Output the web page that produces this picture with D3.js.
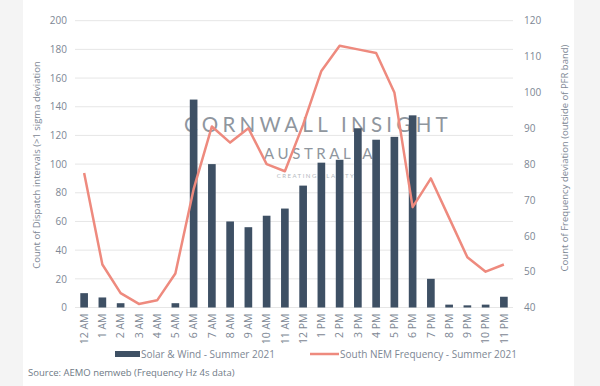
<!DOCTYPE html>
<html>
<head>
<meta charset="utf-8">
<style>
    body { margin: 0; background: #f4f4f4; }
    svg { display: block; font-family: "Open Sans", "Noto Sans", sans-serif; }
</style>
<script src="https://d3js.org/d3.v7.min.js"></script>
</head>
<body>
<svg width="600" height="386"></svg>
<script>

    // hours on the x axis
    var hours = ["12 AM", "1 AM", "2 AM", "3 AM", "4 AM", "5 AM", "6 AM", "7 AM", "8 AM", "9 AM", "10 AM", "11 AM",
        "12 PM", "1 PM", "2 PM", "3 PM", "4 PM", "5 PM", "6 PM", "7 PM", "8 PM", "9 PM", "10 PM", "11 PM"];
    // Solar & Wind - Summer 2021 (left axis)
    var solarWind = [10, 7, 3, 0, 0, 3, 145, 100, 60, 56, 64, 69, 85, 101, 103, 125, 117, 119, 134, 20, 2, 1.5, 2, 7.5];
    // South NEM Frequency - Summer 2021 (right axis)
    var frequency = [77.5, 52, 44, 41, 42, 49.5, 73, 90.5, 86, 90, 80, 78, 91, 106, 113, 112, 111, 100, 68, 76, 65, 54, 50, 52];
    var leftTicks = [0, 20, 40, 60, 80, 100, 120, 140, 160, 180, 200];
    var rightTicks = [40, 50, 60, 70, 80, 90, 100, 110, 120];

    var svg = d3.select("svg");
    var textColor = "#7d8794";

    svg.append("rect").attr("x", 23).attr("y", 0).attr("width", 551).attr("height", 386).attr("fill", "#fff");

    var plotLeft = 75, plotRight = 513, plotTop = 20.7, plotBottom = 307.5;

    var x = d3.scaleBand().domain(hours).range([plotLeft, plotRight]).paddingInner(0.58).paddingOuter(0.29);
    var y = d3.scaleLinear().domain([0, 200]).range([plotBottom, plotTop]);
    var y2 = d3.scaleLinear().domain([40, 120]).range([plotBottom, plotTop]);

    // gridlines
    svg.append("g").selectAll("line").data(leftTicks).enter().append("line")
        .attr("x1", plotLeft).attr("x2", plotRight)
        .attr("y1", d => y(d)).attr("y2", d => y(d))
        .attr("stroke", "#e6e6e6").attr("stroke-width", 1);

    // watermark
    var wm = svg.append("g").attr("fill", "#8f969e").attr("text-anchor", "middle").attr("font-family", "Lato, sans-serif");
    wm.append("text").attr("x", 318).attr("y", 132).attr("font-size", 20.5).attr("letter-spacing", 4.3).text("CORNWALL INSIGHT");
    wm.append("text").attr("x", 320).attr("y", 159).attr("font-size", 15).attr("letter-spacing", 3.6).text("AUSTRALIA");
    wm.append("text").attr("x", 316).attr("y", 178).attr("font-size", 6).attr("letter-spacing", 1.5).attr("fill", "#b4b9be").text("CREATING CLARITY");

    // bars
    svg.append("g").selectAll("rect").data(solarWind).enter().append("rect")
        .attr("x", (d, i) => x(hours[i]))
        .attr("y", d => y(d))
        .attr("width", x.bandwidth())
        .attr("height", d => plotBottom - y(d))
        .attr("fill", "#3e5064");

    // line
    var line = d3.line()
        .x((d, i) => x(hours[i]) + x.bandwidth() / 2)
        .y(d => y2(d));
    svg.append("path").datum(frequency)
        .attr("d", line)
        .attr("fill", "none")
        .attr("stroke", "#ee8a7e")
        .attr("stroke-width", 2.5)
        .attr("stroke-linejoin", "round");

    // left axis
    var yAxis = svg.append("g").attr("transform", "translate(" + (plotLeft - 8) + ",0)")
        .call(d3.axisLeft(y).tickValues(leftTicks).tickSize(0).tickPadding(0));
    yAxis.select(".domain").remove();
    yAxis.selectAll("text").attr("fill", textColor).attr("font-size", 10).attr("font-family", "Open Sans, sans-serif");

    // right axis
    var y2Axis = svg.append("g").attr("transform", "translate(" + (plotRight + 11) + ",0)")
        .call(d3.axisRight(y2).tickValues(rightTicks).tickSize(0).tickPadding(0));
    y2Axis.select(".domain").remove();
    y2Axis.selectAll("text").attr("fill", textColor).attr("font-size", 10).attr("font-family", "Open Sans, sans-serif");

    // x axis
    var xAxis = svg.append("g").attr("transform", "translate(0," + plotBottom + ")")
        .call(d3.axisBottom(x).tickSize(0).tickPadding(0));
    xAxis.select(".domain").remove();
    xAxis.selectAll("text")
        .attr("fill", textColor).attr("font-size", 10.5).attr("font-family", "Open Sans, sans-serif")
        .attr("transform", "rotate(-90)")
        .attr("text-anchor", "end")
        .attr("x", -6).attr("y", 0).attr("dy", "0.35em");

    // axis titles
    svg.append("text")
        .attr("transform", "translate(40,165) rotate(-90)")
        .attr("text-anchor", "middle").attr("font-size", 9.5).attr("fill", textColor)
        .text("Count of Dispatch intervals (>1 sigma deviation");
    svg.append("text")
        .attr("transform", "translate(568,158) rotate(-90)")
        .attr("text-anchor", "middle").attr("font-size", 9.5).attr("fill", textColor)
        .text("Count of Frequency deviation (outside of PFR band)");

    // legend
    var lg = svg.append("g");
    lg.append("rect").attr("x", 115).attr("y", 351).attr("width", 25).attr("height", 6).attr("fill", "#3e5064");
    lg.append("text").attr("x", 141).attr("y", 357.5).attr("font-size", 10).attr("fill", textColor).text("Solar & Wind - Summer 2021");
    lg.append("line").attr("x1", 310).attr("x2", 339).attr("y1", 354).attr("y2", 354).attr("stroke", "#ee8a7e").attr("stroke-width", 2.5);
    lg.append("text").attr("x", 340).attr("y", 357.5).attr("font-size", 10).attr("fill", textColor).text("South NEM Frequency - Summer 2021");

    // source
    svg.append("text").attr("x", 28).attr("y", 376).attr("font-size", 9.5).attr("fill", "#6f7a86")
        .text("Source: AEMO nemweb (Frequency Hz 4s data)");

</script>
</body>
</html>
